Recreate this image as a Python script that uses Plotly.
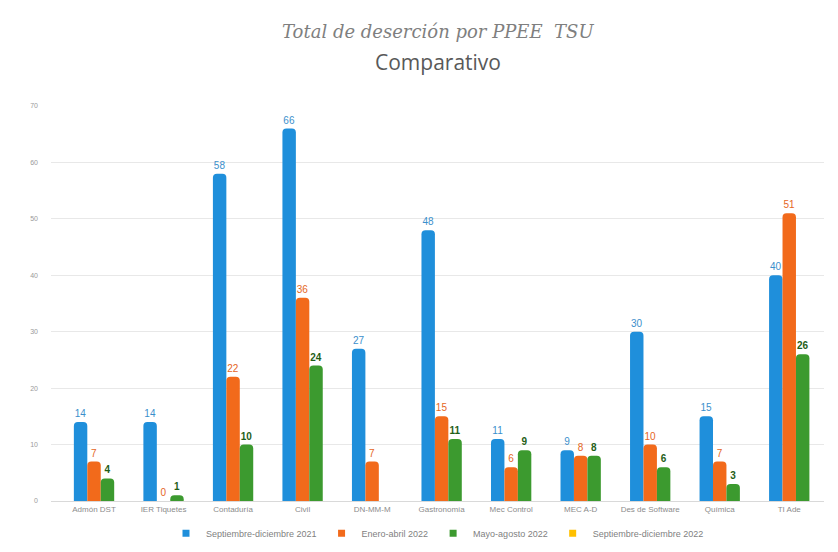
import plotly.graph_objects as go

categories = ["Admón DST", "IER Tiquetes", "Contaduría", "Civil", "DN-MM-M", "Gastronomía",
              "Mec Control", "MEC A-D", "Des de Software", "Química", "TI Ade"]
series_names = ["Septiembre-diciembre 2021", "Enero-abril 2022", "Mayo-agosto 2022", "Septiembre-diciembre 2022"]
sep_dic_2021 = [14, 14, 58, 66, 27, 48, 11, 9, 30, 15, 40]
ene_abr_2022 = [7, 0, 22, 36, 7, 15, 6, 8, 10, 7, 51]
may_ago_2022 = [4, 1, 10, 24, None, 11, 9, 8, 6, 3, 26]
sep_dic_2022 = [None] * 11
y_ticks = [0, 10, 20, 30, 40, 50, 60, 70]

colors = ["#1F8FDB", "#F26A1B", "#3C9A2F", "#FFC000"]
label_colors = ["#3B8FCC", "#E5661E", "#1F5E17", "#C9A000"]
label_bold = [False, False, True]
values = [sep_dic_2021, ene_abr_2022, may_ago_2022]

fig = go.Figure()
for name, vals, c, lc, bold in zip(series_names[:3], values, colors[:3], label_colors[:3], label_bold):
    fig.add_trace(go.Bar(
        x=categories, y=vals, name=name, showlegend=False,
        marker=dict(color=c, line=dict(color=c, width=0), cornerradius=4),
        text=[("" if v is None else (f"<b>{v}</b>" if bold else str(v))) for v in vals],
        textposition="outside", cliponaxis=False,
        textfont=dict(family="Liberation Sans, Arial", size=10, color=lc),
    ))

# legend entries (small square markers), including the empty fourth period
for name, c in zip(series_names, colors):
    fig.add_trace(go.Scatter(
        x=[categories[0]], y=[None], name=name, mode="markers",
        marker=dict(symbol="square", size=7, color=c), hoverinfo="skip",
    ))

fig.update_layout(
    width=838, height=552,
    paper_bgcolor="white", plot_bgcolor="white",
    margin=dict(l=43, r=22, t=98, b=56),
    barmode="group", bargap=0.42, bargroupgap=0.0,
    showlegend=True,
    legend=dict(orientation="h", x=0.5, xanchor="center", y=-0.045, yanchor="top",
                font=dict(family="Liberation Sans, Arial", size=9, color="#7F7F7F"),
                itemwidth=30, traceorder="normal"),
    annotations=[
        dict(text="<i>Total de deserción por PPEE  TSU</i>", x=0.5, y=1.0, xref="paper", yref="paper",
             yshift=75, showarrow=False, xanchor="center", yanchor="middle",
             font=dict(family="DejaVu Serif, Liberation Serif, serif", size=18, color="#7F7F7F")),
        dict(text="Comparativo", x=0.5, y=1.0, xref="paper", yref="paper",
             yshift=44, showarrow=False, xanchor="center", yanchor="middle",
             font=dict(family="Open Sans, Liberation Sans, Arial", size=21, color="#595959")),
    ],
    xaxis=dict(showline=True, linecolor="#D9D9D9", tickfont=dict(family="Liberation Sans, Arial", size=8, color="#8C8C8C"),
               ticks=""),
    yaxis=dict(range=[0, 70], tickvals=y_ticks, showgrid=True, gridcolor="#E8E8E8", gridwidth=1,
               zeroline=False, tickfont=dict(family="Liberation Sans, Arial", size=7, color="#9A9A9A"),
               ticks="", ticklabelstandoff=12),
)

fig.write_html("out.html")
